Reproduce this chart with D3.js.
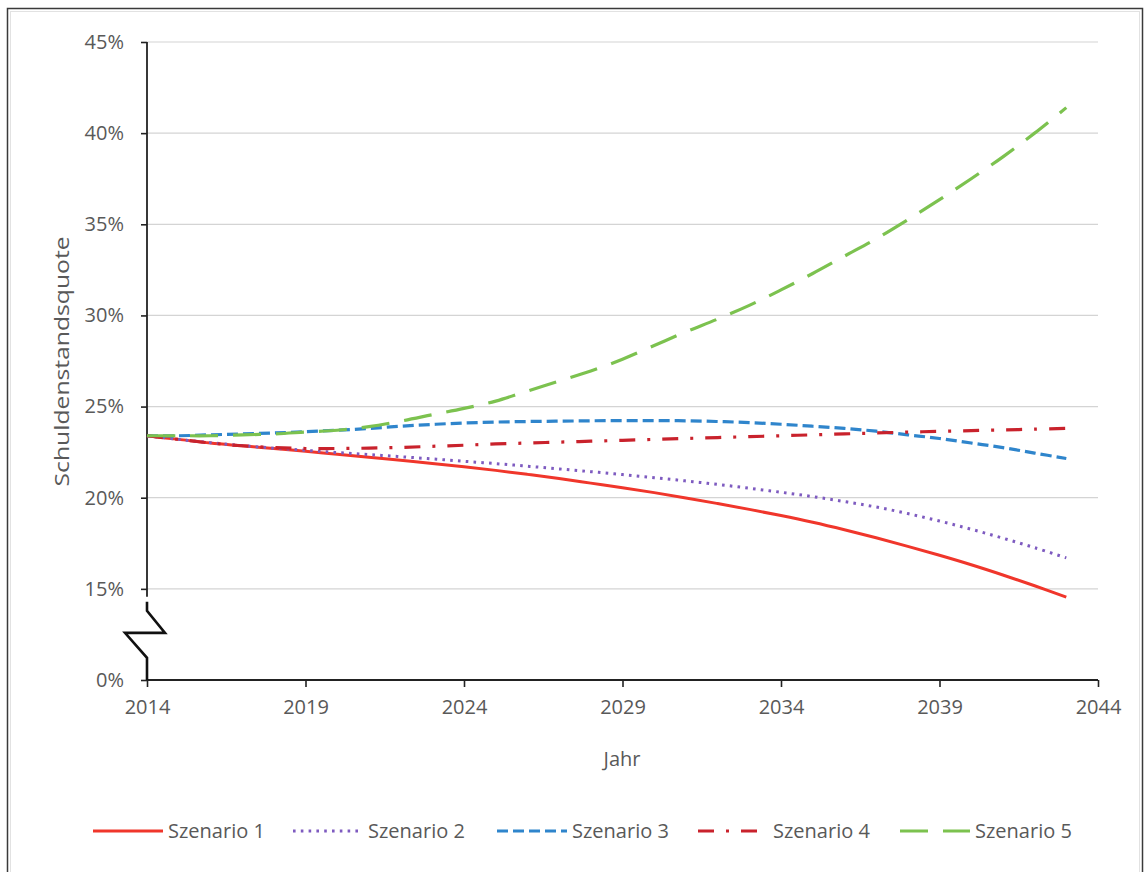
<!DOCTYPE html>
<html>
<head>
<meta charset="utf-8">
<script src="https://cdn.jsdelivr.net/npm/d3@7"></script>
<style>
  html, body { margin: 0; padding: 0; background: #fff; }
  svg { display: block; }
  text { font-family: "Open Sans", "Noto Sans", sans-serif; fill: #595959; }
</style>
</head>
<body>
<svg id="chart" width="1145" height="872"></svg>
<script>
// Projection years 2014–2043
const years = d3.range(2014, 2044);

// Debt ratio (% of GDP) per scenario
const szenario1 = [23.4, 23.2, 23.0, 22.85, 22.7, 22.55, 22.38, 22.22, 22.05, 21.88,
                   21.7, 21.5, 21.28, 21.05, 20.8, 20.55, 20.28, 19.99, 19.68, 19.36,
                   19.02, 18.65, 18.24, 17.8, 17.33, 16.84, 16.32, 15.76, 15.17, 14.55];
const szenario2 = [23.4, 23.2, 23.02, 22.86, 22.72, 22.6, 22.48, 22.37, 22.25, 22.13,
                   22.0, 21.87, 21.73, 21.58, 21.43, 21.27, 21.1, 20.92, 20.73, 20.52,
                   20.3, 20.06, 19.79, 19.49, 19.13, 18.72, 18.27, 17.78, 17.26, 16.7];
const szenario3 = [23.4, 23.4, 23.45, 23.5, 23.55, 23.62, 23.7, 23.8, 23.92, 24.02,
                   24.1, 24.15, 24.18, 24.2, 24.22, 24.23, 24.23, 24.22, 24.18, 24.12,
                   24.03, 23.92, 23.8, 23.65, 23.45, 23.25, 23.0, 22.75, 22.45, 22.15];
const szenario4 = [23.4, 23.2, 23.0, 22.85, 22.75, 22.7, 22.7, 22.72, 22.76, 22.82,
                   22.88, 22.95, 23.0, 23.05, 23.1, 23.15, 23.2, 23.25, 23.3, 23.35,
                   23.4, 23.45, 23.5, 23.55, 23.6, 23.64, 23.68, 23.72, 23.76, 23.8];
const szenario5 = [23.4, 23.4, 23.4, 23.45, 23.5, 23.6, 23.7, 23.9, 24.2, 24.55,
                   24.9, 25.3, 25.85, 26.4, 26.95, 27.6, 28.35, 29.1, 29.8, 30.55,
                   31.4, 32.3, 33.25, 34.2, 35.25, 36.35, 37.5, 38.7, 40.0, 41.4];

const seriesNames = ["Szenario 1", "Szenario 2", "Szenario 3", "Szenario 4", "Szenario 5"];
const seriesValues = [szenario1, szenario2, szenario3, szenario4, szenario5];

// Axis ticks; the lowest tick sits below the axis break and stands for 0 %
const yTicks = [10, 15, 20, 25, 30, 35, 40, 45];
const yTickLabels = ["0%", "15%", "20%", "25%", "30%", "35%", "40%", "45%"];
const xTicks = [2014, 2019, 2024, 2029, 2034, 2039, 2044];

const yTitle = "Schuldenstandsquote";
const xTitle = "Jahr";

// Line styles
const styles = [
  { color: "#f0362b", dash: null,          width: 3 },
  { color: "#7e5bc0", dash: "2.6,5.2",     width: 3 },
  { color: "#2f85cc", dash: "11,5",        width: 3.2 },
  { color: "#c9222c", dash: "16,12,3,12",  width: 3.2 },
  { color: "#7cc24f", dash: "28,15",       width: 3.2 }
];

const svg = d3.select("#chart");
const fontSize = "20px";

// outer frame
svg.append("rect").attr("x", 7.5).attr("y", 8.5).attr("width", 1135).attr("height", 875)
  .attr("fill", "none").attr("stroke", "#3a3a3a").attr("stroke-width", 1.5);
svg.append("rect").attr("x", 10.5).attr("y", 11.5).attr("width", 1129).attr("height", 870)
  .attr("fill", "none").attr("stroke", "#e2e2e2").attr("stroke-width", 1);

const plotLeft = 147, plotRight = 1098, plotTop = 42, plotBottom = 680;
const x = d3.scaleLinear().domain([2014, 2044]).range([plotLeft, plotRight]);
const y = d3.scaleLinear().domain([10, 45]).range([plotBottom, plotTop]);

// horizontal gridlines
svg.append("g").selectAll("line")
  .data(yTicks.filter(d => d > 10))
  .join("line")
  .attr("x1", plotLeft).attr("x2", plotRight)
  .attr("y1", d => y(d)).attr("y2", d => y(d))
  .attr("stroke", "#d4d4d4").attr("stroke-width", 1.2);

// y axis ticks and labels
const yAxis = d3.axisLeft(y).tickValues(yTicks)
  .tickFormat((d, i) => yTickLabels[i]).tickSize(6).tickPadding(17);
const gy = svg.append("g").attr("transform", `translate(${plotLeft},0)`).call(yAxis);
gy.select(".domain").remove();
gy.selectAll(".tick line").attr("stroke", "#222").attr("stroke-width", 1.6);
gy.selectAll(".tick text").style("font-size", fontSize).attr("fill", "#595959")
  .style("font-family", "'Open Sans', sans-serif");

// x axis
const xAxis = d3.axisBottom(x).tickValues(xTicks).tickFormat(d3.format("d"))
  .tickSize(7).tickPadding(13);
const gx = svg.append("g").attr("transform", `translate(0,${plotBottom})`).call(xAxis);
gx.select(".domain").attr("stroke", "#222").attr("stroke-width", 1.8)
  .attr("d", `M${plotLeft},0H${plotRight}`);
gx.selectAll(".tick line").attr("stroke", "#222").attr("stroke-width", 1.6);
gx.selectAll(".tick text").style("font-size", fontSize).attr("fill", "#595959")
  .style("font-family", "'Open Sans', sans-serif");

// y axis line with a break between 0 % and 15 %
const yb = y(15);
svg.append("path")
  .attr("d", `M${plotLeft},${plotTop}V${yb + 8}`)
  .attr("fill", "none").attr("stroke", "#222").attr("stroke-width", 1.8);
svg.append("path")
  .attr("d", `M${plotLeft},${yb + 13}V${yb + 22}L${plotLeft + 18},${yb + 44}H${plotLeft - 22}L${plotLeft},${yb + 69}V${plotBottom}`)
  .attr("fill", "none").attr("stroke", "#111").attr("stroke-width", 2.6)
  .attr("stroke-linejoin", "miter");

// series lines
const line = d3.line()
  .x((d, i) => x(years[i]))
  .y(d => y(d))
  .curve(d3.curveCatmullRom.alpha(0.5));

svg.append("g").selectAll("path")
  .data(seriesValues)
  .join("path")
  .attr("d", d => line(d))
  .attr("fill", "none")
  .attr("stroke", (d, i) => styles[i].color)
  .attr("stroke-width", (d, i) => styles[i].width)
  .attr("stroke-dasharray", (d, i) => styles[i].dash);

// axis titles
svg.append("text")
  .attr("transform", `translate(69,${(y(15) + plotTop) / 2 + 46}) rotate(-90)`)
  .attr("text-anchor", "middle")
  .attr("textLength", 250)
  .attr("lengthAdjust", "spacingAndGlyphs")
  .style("font-size", fontSize)
  .text(yTitle);

svg.append("text")
  .attr("x", 622).attr("y", 766)
  .attr("text-anchor", "middle")
  .style("font-size", fontSize)
  .text(xTitle);

// legend
const legendX = [93, 293, 497, 698, 900];
const lg = svg.append("g").selectAll("g")
  .data(seriesNames)
  .join("g")
  .attr("transform", (d, i) => `translate(${legendX[i]},831)`);
lg.append("line")
  .attr("x1", 0).attr("x2", 70).attr("y1", 0).attr("y2", 0)
  .attr("stroke", (d, i) => styles[i].color)
  .attr("stroke-width", (d, i) => styles[i].width)
  .attr("stroke-dasharray", (d, i) => styles[i].dash);
lg.append("text")
  .attr("x", 75).attr("y", 0).attr("dy", "0.35em")
  .style("font-size", fontSize)
  .text(d => d);
</script>
</body>
</html>
